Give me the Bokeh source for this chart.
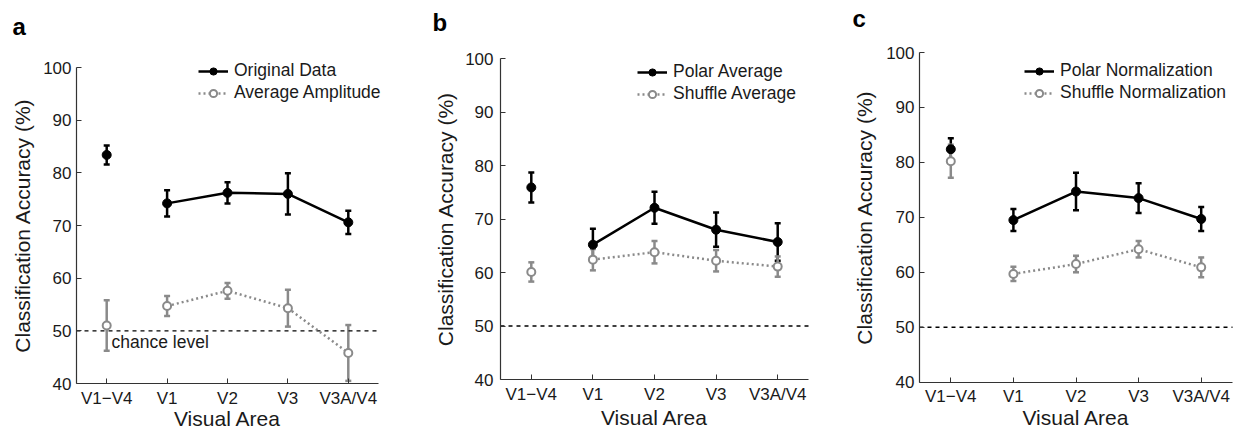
from bokeh.plotting import figure
from bokeh.layouts import row
from bokeh.models import (Range1d, FixedTicker, ColumnDataSource, Whisker, TeeHead,
                          Legend, LegendItem, Label, LinearAxis)
from bokeh.embed import file_html
from bokeh.resources import INLINE

# ---------------- data ----------------
categories = ["V1\u2212V4", "V1", "V2", "V3", "V3A/V4"]
y_ticks = [40, 50, 60, 70, 80, 90, 100]
chance = 50

# panel a
orig_mean = [83.4, 74.2, 76.2, 76.0, 70.6]
orig_err = [1.8, 2.5, 2.0, 3.9, 2.2]
amp_mean = [51.0, 54.7, 57.6, 54.3, 45.8]
amp_err = [4.8, 1.9, 1.5, 3.5, 5.3]

# panel b
pavg_mean = [75.9, 65.2, 72.1, 68.0, 65.7]
pavg_err = [2.8, 3.0, 3.0, 3.2, 3.5]
savg_mean = [60.1, 62.4, 63.8, 62.2, 61.1]
savg_err = [1.8, 2.0, 2.1, 2.0, 1.9]

# panel c
pnorm_mean = [82.4, 69.5, 74.7, 73.5, 69.7]
pnorm_err = [2.0, 2.0, 3.4, 2.7, 2.2]
snorm_mean = [80.2, 59.7, 61.5, 64.2, 60.9]
snorm_err = [3.0, 1.3, 1.5, 1.5, 1.8]

FONT = "Liberation Sans"
BLACK = "#000000"
GRAY = "#8a8a8a"
TXT = "#1a1a1a"
AX = "#333333"

W, H = 415, 428
X_LO, X_HI = 0.5, 5.5
Y_LO, Y_HI = 40, 100


def make_panel(letter, label1, label2, m1, e1, m2, e2,
               ax_left, ax_right, ax_top, ax_bottom,
               ylab_standoff, ytick_standoff, xlab_standoff,
               letter_xy, legend_xy, chance_text=False):
    # pixel placement of the axes box inside the canvas -> ranges
    xs_px = (ax_right - ax_left) / (X_HI - X_LO)
    ys_px = (ax_bottom - ax_top) / (Y_HI - Y_LO)
    xr = Range1d(X_LO - ax_left / xs_px, X_HI + (W - ax_right) / xs_px)
    yr = Range1d(Y_LO - (H - ax_bottom) / ys_px, Y_HI + ax_top / ys_px)

    p = figure(width=W, height=H, x_range=xr, y_range=yr,
               output_backend="svg", toolbar_location=None,
               x_axis_location=None, y_axis_location=None,
               min_border=0)
    p.outline_line_color = None
    p.xgrid.visible = False
    p.ygrid.visible = False
    p.background_fill_color = "white"

    xs = list(range(1, len(categories) + 1))
    xaxis = LinearAxis(fixed_location=Y_LO, bounds=(X_LO, X_HI),
                       ticker=FixedTicker(ticks=xs),
                       major_label_overrides={x: c for x, c in zip(xs, categories)},
                       axis_label="Visual Area")
    yaxis = LinearAxis(fixed_location=X_LO, bounds=(Y_LO, Y_HI),
                       ticker=FixedTicker(ticks=y_ticks),
                       axis_label="Classification Accuracy (%)")
    for ax in (xaxis, yaxis):
        ax.axis_line_color = AX
        ax.axis_line_width = 1.2
        ax.major_tick_line_color = AX
        ax.major_tick_in = 5
        ax.major_tick_out = 0
        ax.minor_tick_line_color = None
        ax.major_label_text_font = FONT
        ax.major_label_text_font_size = "17px"
        ax.major_label_text_color = TXT
        ax.axis_label_text_font = FONT
        ax.axis_label_text_font_size = "21px"
        ax.axis_label_text_font_style = "normal"
        ax.axis_label_text_color = TXT
    yaxis.major_label_standoff = ytick_standoff
    yaxis.axis_label_standoff = ylab_standoff
    xaxis.major_label_standoff = 5
    xaxis.axis_label_standoff = xlab_standoff
    p.add_layout(xaxis, "below")
    p.add_layout(yaxis, "left")

    # chance line
    p.segment(x0=[X_LO], x1=[X_HI], y0=[chance], y1=[chance], line_color=BLACK,
              line_width=1.3, line_dash="4 4")

    s1 = ColumnDataSource(dict(x=xs, y=m1, lo=[m - e for m, e in zip(m1, e1)],
                               hi=[m + e for m, e in zip(m1, e1)]))
    s2 = ColumnDataSource(dict(x=xs, y=m2, lo=[m - e for m, e in zip(m2, e2)],
                               hi=[m + e for m, e in zip(m2, e2)]))
    l1 = ColumnDataSource(dict(x=xs[1:], y=m1[1:]))
    l2 = ColumnDataSource(dict(x=xs[1:], y=m2[1:]))

    p.add_layout(Whisker(base="x", lower="lo", upper="hi", source=s1, line_color=BLACK,
                         line_width=2.5,
                         upper_head=TeeHead(size=6, line_color=BLACK, line_width=2.5),
                         lower_head=TeeHead(size=6, line_color=BLACK, line_width=2.5)))
    r1 = p.line("x", "y", source=l1, line_color=BLACK, line_width=2.5)
    m1r = p.scatter("x", "y", source=s1, size=9, fill_color=BLACK, line_color=BLACK)

    p.add_layout(Whisker(base="x", lower="lo", upper="hi", source=s2, line_color=GRAY,
                         line_width=2.5,
                         upper_head=TeeHead(size=6, line_color=GRAY, line_width=2.5),
                         lower_head=TeeHead(size=6, line_color=GRAY, line_width=2.5)))
    r2 = p.line("x", "y", source=l2, line_color=GRAY, line_width=2.5, line_dash="2 3")
    m2r = p.scatter("x", "y", source=s2, size=8, fill_color="white", line_color=GRAY,
                    line_width=2)

    leg = Legend(items=[LegendItem(label=label1, renderers=[r1, m1r]),
                        LegendItem(label=label2, renderers=[r2, m2r])],
                 location=legend_xy, padding=0, margin=0, spacing=1,
                 glyph_width=30, glyph_height=18, label_height=18, label_standoff=6,
                 label_text_font=FONT, label_text_font_size="17.5px",
                 label_text_color=TXT, background_fill_alpha=0,
                 border_line_color=None)
    p.add_layout(leg)

    p.add_layout(Label(x=letter_xy[0], y=letter_xy[1], x_units="screen", y_units="screen",
                       text=letter, text_font=FONT, text_font_size="24px",
                       text_font_style="bold", text_color=BLACK,
                       text_baseline="alphabetic"))
    if chance_text:
        p.add_layout(Label(x=1.08, y=47.8, text="chance level", text_font=FONT,
                           text_font_size="17.5px", text_color=TXT, text_baseline="middle"))
    return p


pa = make_panel("a", "Original Data", "Average Amplitude", orig_mean, orig_err,
                amp_mean, amp_err, ax_left=76, ax_right=378, ax_top=67, ax_bottom=383,
                ylab_standoff=6, ytick_standoff=5, xlab_standoff=-4,
                letter_xy=(12, 402), legend_xy=(198, 325), chance_text=True)
pb = make_panel("b", "Polar Average", "Shuffle Average", pavg_mean, pavg_err,
                savg_mean, savg_err, ax_left=85, ax_right=393, ax_top=58, ax_bottom=379,
                ylab_standoff=5, ytick_standoff=7, xlab_standoff=-1,
                letter_xy=(17, 406), legend_xy=(222, 324))
pc = make_panel("c", "Polar Normalization", "Shuffle Normalization", pnorm_mean, pnorm_err,
                snorm_mean, snorm_err, ax_left=89, ax_right=402, ax_top=52, ax_bottom=381.7,
                ylab_standoff=7, ytick_standoff=5, xlab_standoff=-4,
                letter_xy=(22, 410), legend_xy=(194, 325))

layout = row(pa, pb, pc)
open("out.html", "w").write(file_html(layout, INLINE))
